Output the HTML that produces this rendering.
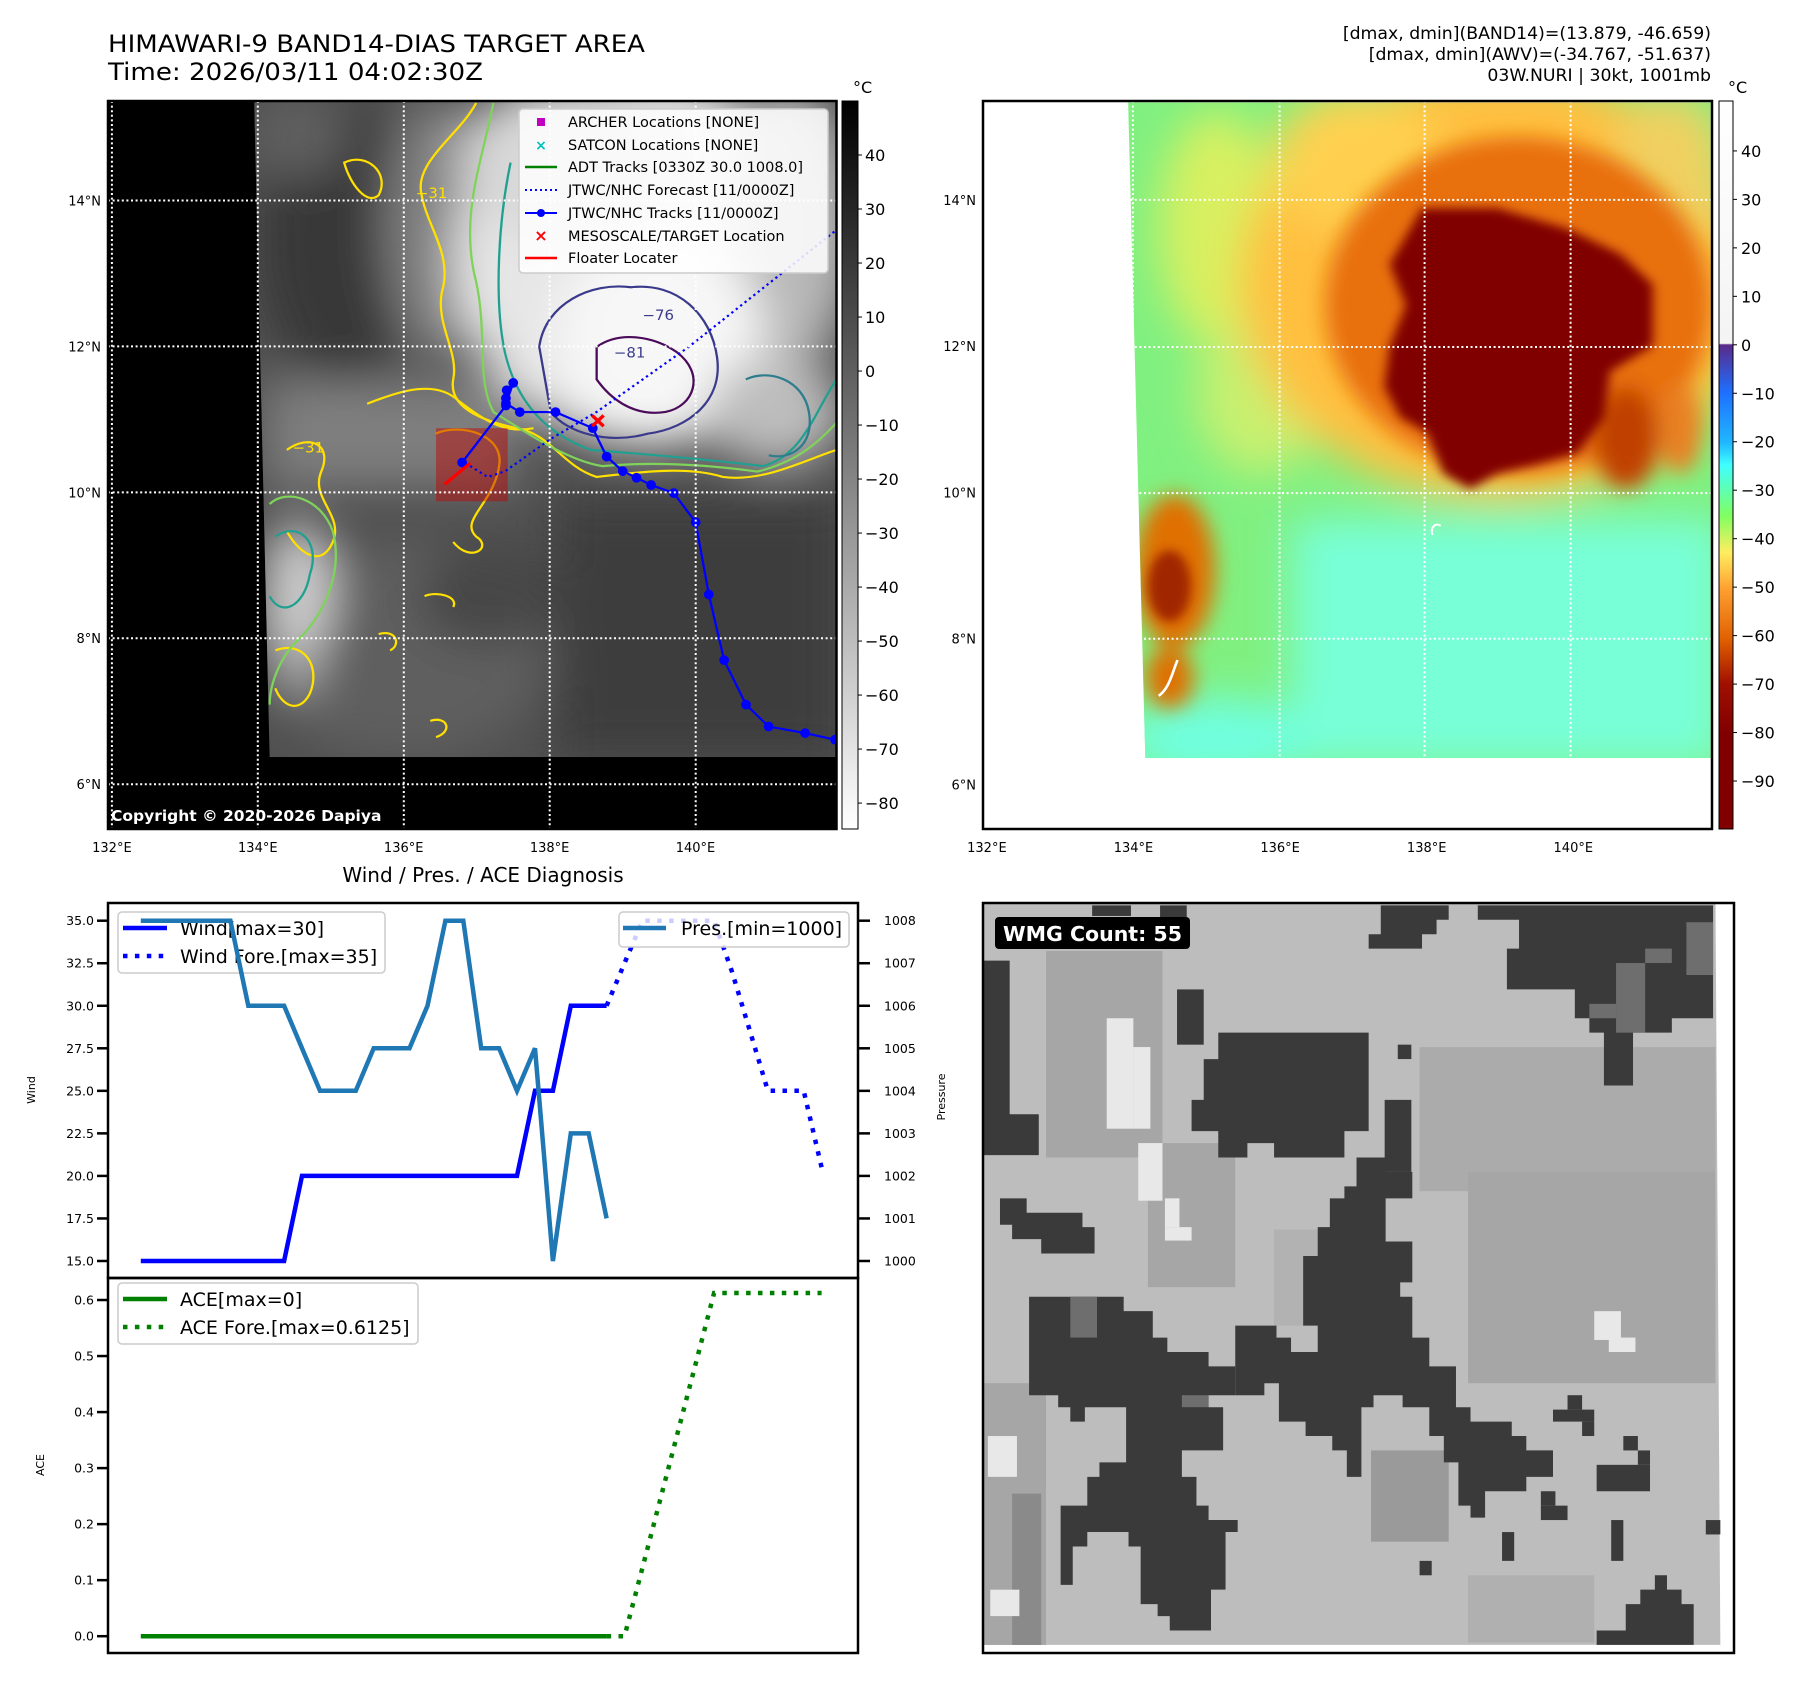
<!DOCTYPE html>
<html><head><meta charset="utf-8"><title>HIMAWARI-9 BAND14 Target Area</title>
<style>
html,body{margin:0;padding:0;background:#fff;}
svg{display:block;font-family:"DejaVu Sans","Liberation Sans",sans-serif;}
</style></head>
<body>
<svg id="fig" xmlns="http://www.w3.org/2000/svg" width="1801" height="1690" viewBox="0 0 1801 1690">
<defs>
  <filter id="b40" x="-50%" y="-50%" width="200%" height="200%"><feGaussianBlur stdDeviation="40"/></filter>
  <filter id="b20" x="-50%" y="-50%" width="200%" height="200%"><feGaussianBlur stdDeviation="20"/></filter>
  <filter id="b10" x="-50%" y="-50%" width="200%" height="200%"><feGaussianBlur stdDeviation="10"/></filter>
  <clipPath id="clip1"><polygon points="443,185 1458,185 1458,1397 470,1397"/></clipPath>
  <clipPath id="clipAx1"><rect x="187" y="185" width="1271" height="1345"/></clipPath>
  <clipPath id="clip2"><polygon points="313,83 1398,83 1398,1367 345,1367"/></clipPath>
  <linearGradient id="cb1" x1="0" y1="0" x2="0" y2="1"><stop offset="0" stop-color="#000"/><stop offset="1" stop-color="#fff"/></linearGradient>
  <linearGradient id="cb2" x1="0" y1="0" x2="0" y2="1">
    <stop offset="0" stop-color="#ffffff"/><stop offset="0.333" stop-color="#f4f4f4"/>
    <stop offset="0.335" stop-color="#5a2a8a"/><stop offset="0.40" stop-color="#1e6fff"/>
    <stop offset="0.47" stop-color="#20b8ff"/><stop offset="0.50" stop-color="#40ffff"/>
    <stop offset="0.57" stop-color="#80ff60"/><stop offset="0.62" stop-color="#ffee60"/>
    <stop offset="0.67" stop-color="#ffa030"/><stop offset="0.74" stop-color="#e06000"/>
    <stop offset="0.80" stop-color="#a01000"/><stop offset="0.87" stop-color="#800000"/>
    <stop offset="1" stop-color="#800000"/>
  </linearGradient>
</defs>

<!-- Titles -->
<text x="108" y="52" font-size="24" textLength="537" lengthAdjust="spacingAndGlyphs">HIMAWARI-9 BAND14-DIAS TARGET AREA</text>
<text x="108" y="80" font-size="24" textLength="375" lengthAdjust="spacingAndGlyphs">Time: 2026/03/11 04:02:30Z</text>
<g font-size="17.3" text-anchor="end">
  <text x="1711" y="39">[dmax, dmin](BAND14)=(13.879, -46.659)</text>
  <text x="1711" y="60">[dmax, dmin](AWV)=(-34.767, -51.637)</text>
  <text x="1711" y="81">03W.NURI | 30kt, 1001mb</text>
</g>

<!-- ============ MAP 1 ============ -->
<g>
<rect x="108" y="101" width="728.5" height="728" fill="#000"/>
<g transform="scale(0.5737,0.5420)">
  <g clip-path="url(#clip1)">
    <rect x="440" y="185" width="1020" height="1215" fill="#505050"/>
    <g filter="url(#b40)">
      <ellipse cx="600" cy="450" rx="150" ry="260" fill="#383838"/>
      <ellipse cx="520" cy="250" rx="90" ry="80" fill="#5e5e5e"/>
      <ellipse cx="760" cy="420" rx="90" ry="240" fill="#808080"/>
      <rect x="460" y="700" width="440" height="200" fill="#7e7e7e"/>
      <ellipse cx="1120" cy="480" rx="330" ry="340" fill="#e6e6e6"/>
      <ellipse cx="1000" cy="300" rx="200" ry="150" fill="#d8d8d8"/>
      <ellipse cx="1380" cy="420" rx="110" ry="260" fill="#b8b8b8"/>
      <ellipse cx="1150" cy="620" rx="180" ry="200" fill="#f7f7f7"/>
      <ellipse cx="1350" cy="760" rx="120" ry="100" fill="#bdbdbd"/>
      <rect x="970" y="920" width="500" height="480" fill="#3e3e3e"/>
      <ellipse cx="700" cy="1200" rx="260" ry="200" fill="#5e5e5e"/>
      <ellipse cx="520" cy="1090" rx="60" ry="130" fill="#cfcfcf"/>
      <ellipse cx="520" cy="1240" rx="40" ry="40" fill="#aaa"/>
      <ellipse cx="850" cy="1100" rx="120" ry="90" fill="#464646"/>
    </g>
    <!-- contours -->
    <g fill="none" stroke-width="4">
      <path stroke="#ffe000" d="M830,190 C800,250 720,300 735,360 C745,420 790,470 770,540 C760,600 800,650 790,700 C780,760 860,780 900,790 C960,800 980,860 1040,880 C1120,870 1200,860 1260,880 C1330,890 1400,850 1458,830"/>
      <path stroke="#ffe000" d="M640,745 C700,720 760,700 800,740 C850,780 880,800 930,790"/>
      <path stroke="#ffe000" d="M500,830 C540,800 580,820 560,870 C540,920 600,950 580,1000 C560,1050 520,1020 500,980"/>
      <path stroke="#ffe000" d="M760,800 C800,780 880,800 870,860 C860,930 800,960 830,990 C860,1010 820,1040 790,1000"/>
      <path stroke="#ffe000" d="M600,300 C640,280 680,320 660,360 C640,380 610,340 600,300 Z"/>
      <path stroke="#ffe000" d="M660,1170 C690,1160 700,1190 680,1200 M740,1100 C760,1090 800,1100 790,1120 M750,1330 C780,1320 790,1350 760,1360"/>
      <path stroke="#ffe000" d="M480,1200 C530,1180 560,1230 540,1280 C520,1320 490,1300 480,1270"/>
      <path stroke="#7fd35a" d="M860,190 C840,300 800,400 830,520 C850,620 830,700 860,760 C920,800 990,850 1050,860 C1150,850 1250,860 1320,870 C1400,850 1440,800 1458,780"/>
      <path stroke="#7fd35a" d="M470,930 C500,900 560,920 580,980 C600,1060 560,1140 520,1180 C490,1210 470,1260 470,1300"/>
      <path stroke="#20a090" d="M890,300 C870,400 860,550 880,650 C900,740 950,800 1030,830 C1150,840 1250,850 1330,860 C1400,840 1420,760 1458,700"/>
      <path stroke="#20a090" d="M480,990 C520,960 560,1000 540,1060 C530,1120 490,1140 470,1100"/>
      <path stroke="#2e7d8c" d="M1300,700 C1340,680 1400,700 1410,760 C1420,820 1380,850 1340,840"/>
      <path stroke="#3a3a8c" d="M940,640 C950,560 1030,520 1100,530 C1180,520 1240,580 1250,660 C1260,740 1200,790 1130,800 C1060,820 990,800 960,760 Z"/>
      <path stroke="#4b0a5a" d="M1040,640 C1080,610 1140,620 1180,650 C1230,690 1210,750 1160,760 C1100,770 1060,730 1040,700 Z"/>
    </g>
    <g font-size="26" fill="#ffe000"><text x="725" y="365">−31</text><text x="510" y="835">−31</text></g>
    <g font-size="26" fill="#3a3a8c"><text x="1120" y="590">−76</text><text x="1070" y="660">−81</text></g>
  </g>
  <g clip-path="url(#clipAx1)">
    <rect x="760" y="790" width="125" height="135" fill="#c00000" fill-opacity="0.45"/>
    <g id="tracks1"></g>
  </g>
</g>
<!-- gridlines -->
<g stroke="#fff" stroke-width="2" stroke-dasharray="2 2.6" fill="none">
  <line x1="111.9" y1="101" x2="111.9" y2="829"/><line x1="257.8" y1="101" x2="257.8" y2="829"/>
  <line x1="403.8" y1="101" x2="403.8" y2="829"/><line x1="549.7" y1="101" x2="549.7" y2="829"/>
  <line x1="695.7" y1="101" x2="695.7" y2="829"/>
  <line x1="108" y1="200.5" x2="836.5" y2="200.5"/><line x1="108" y1="346.4" x2="836.5" y2="346.4"/>
  <line x1="108" y1="492.4" x2="836.5" y2="492.4"/><line x1="108" y1="638.3" x2="836.5" y2="638.3"/>
  <line x1="108" y1="784.2" x2="836.5" y2="784.2"/>
</g>
<text x="111" y="821" font-size="15.5" font-weight="bold" fill="#fff">Copyright © 2020-2026 Dapiya</text>
<rect x="108" y="101" width="728.5" height="728" fill="none" stroke="#000" stroke-width="2.5"/>
<!-- legend -->
<g>
  <rect x="519" y="109" width="309" height="164" rx="4" fill="#fff" fill-opacity="0.85" stroke="#ccc" stroke-width="1.5"/>
  <rect x="537" y="118" width="8" height="8" fill="#c000c0"/>
  <text x="541" y="150" font-size="14" font-weight="bold" fill="#00c0c0" text-anchor="middle">×</text>
  <line x1="525" y1="167" x2="557" y2="167" stroke="#008000" stroke-width="2.5"/>
  <line x1="525" y1="190" x2="557" y2="190" stroke="#0000ff" stroke-width="2" stroke-dasharray="2 3"/>
  <line x1="525" y1="213" x2="557" y2="213" stroke="#0000ff" stroke-width="2"/><circle cx="541" cy="213" r="4" fill="#0000ff"/>
  <text x="541" y="241" font-size="16" font-weight="bold" fill="#ff0000" text-anchor="middle">×</text>
  <line x1="525" y1="258" x2="557" y2="258" stroke="#ff0000" stroke-width="2.5"/>
  <g font-size="14.5">
    <text x="568" y="127">ARCHER Locations [NONE]</text>
    <text x="568" y="150">SATCON Locations [NONE]</text>
    <text x="568" y="172">ADT Tracks [0330Z 30.0 1008.0]</text>
    <text x="568" y="195">JTWC/NHC Forecast [11/0000Z]</text>
    <text x="568" y="218">JTWC/NHC Tracks [11/0000Z]</text>
    <text x="568" y="241">MESOSCALE/TARGET Location</text>
    <text x="568" y="263">Floater Locater</text>
  </g>
</g>
<!-- colorbar 1 -->
<rect x="842" y="101" width="16" height="728" fill="url(#cb1)" stroke="#000" stroke-width="1"/>
<text x="853" y="93" font-size="16">°C</text>
<g id="cb1labels" font-size="16"></g>
<g id="map1labels" font-size="13"></g>
</g>

<!-- ============ MAP 2 ============ -->
<g>
<rect x="983" y="101" width="729" height="728" fill="#fff"/>
<g transform="translate(960,60) scale(0.5371,0.5107)">
  <g clip-path="url(#clip2)">
    <rect x="300" y="80" width="1100" height="1300" fill="#80f080"/>
    <g filter="url(#b40)">
      <rect x="620" y="900" width="800" height="480" fill="#78ffd8"/>
      <ellipse cx="480" cy="1330" rx="180" ry="80" fill="#70ffe0"/>
      <ellipse cx="480" cy="330" rx="110" ry="230" fill="#d8f060"/>
      <ellipse cx="560" cy="650" rx="120" ry="160" fill="#c8f070"/>
      <ellipse cx="1000" cy="440" rx="480" ry="420" fill="#ffc040"/>
      <ellipse cx="1320" cy="220" rx="110" ry="160" fill="#f0d060"/>
      <ellipse cx="740" cy="200" rx="160" ry="140" fill="#ffd050"/>
    </g>
    <g filter="url(#b20)">
      <ellipse cx="1040" cy="480" rx="360" ry="330" fill="#e87010"/>
      <ellipse cx="1240" cy="740" rx="60" ry="100" fill="#c04000"/>
      <ellipse cx="400" cy="1000" rx="75" ry="150" fill="#e07000"/>
      <ellipse cx="390" cy="1210" rx="45" ry="60" fill="#e07000"/>
      <ellipse cx="1340" cy="720" rx="40" ry="90" fill="#e88020"/>
    </g>
    <g filter="url(#b10)">
      <path fill="#800000" d="M860,290 L1000,290 L1130,330 L1230,380 L1290,440 L1290,560 L1210,610 L1200,700 L1150,770 L1080,790 L1000,810 L950,840 L900,810 L870,730 L820,700 L790,640 L800,560 L830,480 L800,400 Z"/>
      <ellipse cx="390" cy="1030" rx="40" ry="70" fill="#a02800"/>
    </g>
    <path d="M880,930 C875,915 885,905 895,912" stroke="#fff" stroke-width="4" fill="none"/>
    <path d="M405,1175 C395,1200 390,1230 370,1245" stroke="#fff" stroke-width="5" fill="none"/>
  </g>
</g>
<g stroke="#fff" stroke-width="2" stroke-dasharray="2 2.6" fill="none">
  <line x1="1132.9" y1="101" x2="1132.9" y2="829"/><line x1="1279.6" y1="101" x2="1279.6" y2="829"/>
  <line x1="1424.6" y1="101" x2="1424.6" y2="829"/><line x1="1570.6" y1="101" x2="1570.6" y2="829"/>
  <line x1="983" y1="199.9" x2="1712" y2="199.9"/><line x1="983" y1="347" x2="1712" y2="347"/>
  <line x1="983" y1="493.1" x2="1712" y2="493.1"/><line x1="983" y1="638.7" x2="1712" y2="638.7"/>
  <line x1="983" y1="784.2" x2="1712" y2="784.2"/>
</g>
<rect x="983" y="101" width="729" height="728" fill="none" stroke="#000" stroke-width="2.5"/>
<rect x="1719" y="101" width="14" height="728" fill="url(#cb2)" stroke="#000" stroke-width="1"/>
<text x="1728" y="93" font-size="16">°C</text>
<g id="cb2labels" font-size="16"></g>
<g id="map2labels" font-size="13"></g>
</g>

<!-- ============ WIND / PRES / ACE ============ -->
<text x="483" y="882" font-size="20" text-anchor="middle">Wind / Pres. / ACE Diagnosis</text>
<g id="chart"></g>

<!-- ============ WMG ============ -->
<g>
<rect x="983" y="903" width="751" height="750" fill="#fff"/>
<g transform="translate(983,903) scale(0.4851,0.4802)">
  <polygon points="0,0 1510,0 1520,1545 0,1545" fill="#bdbdbd"/>
  <g fill="#a6a6a6">
    <rect x="0" y="1000" width="130" height="545"/><rect x="60" y="1230" width="60" height="315" fill="#8a8a8a"/>
    <rect x="130" y="100" width="240" height="430"/><rect x="340" y="500" width="180" height="300"/>
    <rect x="900" y="300" width="610" height="300" fill="#ababab"/><rect x="1000" y="560" width="510" height="440"/>
    <rect x="800" y="1140" width="160" height="190" fill="#9a9a9a"/><rect x="1000" y="1400" width="260" height="140" fill="#b0b0b0"/>
    <rect x="600" y="680" width="150" height="200" fill="#b2b2b2"/>
  </g>
  <g fill="#e8e8e8">
    <rect x="255" y="240" width="55" height="230"/><rect x="310" y="300" width="35" height="170"/>
    <rect x="320" y="500" width="50" height="120"/><rect x="375" y="615" width="30" height="60"/><rect x="375" y="675" width="55" height="28"/>
    <rect x="1260" y="850" width="55" height="60"/><rect x="1290" y="905" width="55" height="30"/>
    <rect x="10" y="1110" width="60" height="85"/><rect x="15" y="1430" width="60" height="55"/>
  </g>
  <g fill="#3a3a3a">
    <path d="M0,120 H55 V440 H115 V525 H0 Z"/>
    <rect x="225" y="5" width="80" height="22"/><rect x="365" y="5" width="55" height="25"/>
    <path d="M820,5 H960 V35 H935 V65 H905 V95 H795 V65 H820 Z"/>
    <path d="M1020,5 H1505 V240 H1420 V270 H1340 V380 H1280 V270 H1250 V240 H1220 V180 H1080 V95 H1105 V35 H1020 Z"/>
    <rect x="400" y="180" width="55" height="115"/>
    <path d="M455,325 H485 V270 H795 V475 H745 V530 H600 V500 H545 V530 H485 V475 H430 V410 H455 Z"/>
    <rect x="828" y="410" width="55" height="150"/><rect x="855" y="295" width="28" height="30"/>
    <path d="M770,530 H830 V560 H885 V615 H830 V705 H885 V790 H860 V820 H885 V905 H920 V965 H975 V1050 H1005 V1080 H1090 V1110 H1120 V1140 H1175 V1195 H1120 V1225 H1035 V1280 H1005 V1255 H980 V1165 H950 V1110 H920 V1050 H865 V1025 H805 V1050 H780 V1195 H750 V1140 H720 V1110 H665 V1080 H610 V1000 H580 V1025 H520 V880 H605 V905 H635 V935 H690 V880 H660 V735 H690 V675 H715 V615 H745 V590 H770 Z"/>
    <path d="M35,615 H90 V645 H205 V675 H230 V730 H120 V700 H60 V670 H35 Z"/>
    <path d="M95,820 H290 V850 H350 V905 H380 V935 H465 V965 H520 V1025 H465 V1050 H495 V1140 H410 V1195 H440 V1255 H465 V1285 H525 V1310 H500 V1430 H470 V1515 H385 V1485 H360 V1460 H325 V1340 H300 V1310 H215 V1340 H185 V1420 H160 V1255 H215 V1195 H240 V1165 H295 V1050 H210 V1080 H180 V1050 H155 V1025 H95 Z"/>
    <rect x="1205" y="1025" width="30" height="30"/><rect x="1175" y="1055" width="85" height="25"/><rect x="1235" y="1080" width="25" height="30"/>
    <rect x="1320" y="1110" width="30" height="30"/><rect x="1350" y="1140" width="25" height="30"/>
    <rect x="1265" y="1170" width="110" height="55"/><rect x="1150" y="1225" width="30" height="30"/><rect x="1150" y="1255" width="55" height="30"/>
    <rect x="1295" y="1285" width="25" height="85"/><rect x="1070" y="1310" width="25" height="60"/>
    <rect x="1490" y="1285" width="30" height="30"/><rect x="900" y="1370" width="25" height="30"/>
    <path d="M1385,1400 H1410 V1430 H1440 V1460 H1465 V1545 H1265 V1515 H1325 V1460 H1355 V1430 H1385 Z"/>
  </g>
  <g fill="#6e6e6e">
    <rect x="1365" y="95" width="55" height="30"/><rect x="1305" y="125" width="60" height="145"/>
    <rect x="1250" y="210" width="55" height="30"/><rect x="1450" y="40" width="55" height="110"/>
    <rect x="180" y="820" width="55" height="85"/><rect x="410" y="1025" width="55" height="25"/>
  </g>
</g>
<rect x="983" y="903" width="751" height="750" fill="none" stroke="#000" stroke-width="2.5"/>
<rect x="995" y="917" width="195" height="32" rx="4" fill="#000"/>
<text x="1003" y="941" font-size="20.5" font-weight="bold" fill="#fff">WMG Count: 55</text>
</g>

<script>
// ---------------- Diagnosis chart data ----------------
const obsHours = [0,1,2,3,4,5,6,7,8,9,10,11,12,13,14,15,16,17,18,19,20,21,22,23,24,25,26];
const windObs = [15,15,15,15,15,15,15,15,15,20,20,20,20,20,20,20,20,20,20,20,20,20,25,25,30,30,30];
const presObs = [1008,1008,1008,1008,1008,1008,1006,1006,1006,1005,1004,1004,1004,1005,1005,1005,1006,1008,1008,1005,1005,1004,1005,1000,1003,1003,1001];
const aceObs = [0,0,0,0,0,0,0,0,0,0,0,0,0,0,0,0,0,0,0,0,0,0,0,0,0,0,0];
const foreHours = [26,27,28,29,30,31,32,33,34,35,36,37,38];
const windFore = [30,32.5,35,35,35,35,35,32,28.5,25,25,25,20.5];
const aceFore = [0,0,0.1225,0.245,0.3675,0.49,0.6125,0.6125,0.6125,0.6125,0.6125,0.6125,0.6125];
const windTicks = [15.0,17.5,20.0,22.5,25.0,27.5,30.0,32.5,35.0];
const presTicks = [1000,1001,1002,1003,1004,1005,1006,1007,1008];
const aceTicks = [0.0,0.1,0.2,0.3,0.4,0.5,0.6];

// ---------------- Map data ----------------
const trackLon = [136.80,137.40,137.40,137.41,137.50,137.40,137.59,138.08,138.59,138.78,139.00,139.19,139.39,139.70,140.00,140.18,140.39,140.69,141.00,141.50,141.91,142.10];
const trackLat = [10.41,11.19,11.29,11.40,11.50,11.22,11.10,11.10,10.88,10.49,10.29,10.20,10.10,9.99,9.59,8.60,7.70,7.09,6.79,6.70,6.61,6.58];
const foreLon = [136.91,137.15,137.39,138.01,138.64,139.90,141.87,142.10];
const foreLat = [10.36,10.21,10.29,10.73,11.10,11.99,13.55,13.73];
const targetLon = [138.66];
const targetLat = [10.98];
const floaterLon = [136.56,136.91];
const floaterLat = [10.11,10.40];
const cb1Ticks = [40,30,20,10,0,-10,-20,-30,-40,-50,-60,-70,-80];
const cb2Ticks = [40,30,20,10,0,-10,-20,-30,-40,-50,-60,-70,-80,-90];
const lonTicks = [132,134,136,138,140];
const latTicks = [14,12,10,8,6];

const NS = 'http://www.w3.org/2000/svg';
function mk(tag, attrs, parent){ const e=document.createElementNS(NS,tag); for(const k in attrs) e.setAttribute(k,attrs[k]); parent.appendChild(e); return e; }
function fmtNeg(v){ return (v<0?'\u2212':'')+Math.abs(v); }

// ---- chart axes functions ----
const AX = {l:108, r:858, tW:903, bW:1278, tA:1278, bA:1653};
const xMin=-1.83, xMax=40.03;
function xS(h){ return AX.l + (h-xMin)/(xMax-xMin)*(AX.r-AX.l); }
const wTop=36.04, wBot=14.0;
function yW(v){ return AX.tW + (wTop-v)/(wTop-wBot)*(AX.bW-AX.tW); }
function yP(p){ return yW(15 + (p-1000)*2.5); }
const aTop=0.6393, aBot=-0.03;
function yA(v){ return AX.tA + (aTop-v)/(aTop-aBot)*(AX.bA-AX.tA); }
function pts(xs, ys, fy){ return xs.map((h,i)=>xS(h).toFixed(1)+','+fy(ys[i]).toFixed(1)).join(' '); }

const chart = document.getElementById('chart');
const fw = mk('rect',{x:AX.l,y:AX.tW,width:AX.r-AX.l,height:AX.bW-AX.tW,fill:'#fff'},chart);


const fa = mk('rect',{x:AX.l,y:AX.tA,width:AX.r-AX.l,height:AX.bA-AX.tA,fill:'#fff'},chart);



windTicks.forEach(v=>{
  const y=yW(v);
  mk('line',{x1:AX.l-11,y1:y,x2:AX.l,y2:y,stroke:'#000','stroke-width':2.5},chart);
  const t=mk('text',{x:AX.l-14,y:y+4.5,'font-size':12.5,'text-anchor':'end'},chart);
  t.textContent=v.toFixed(1);
  
  
});
presTicks.forEach(p=>{
  const y=yP(p);
  mk('line',{x1:AX.r,y1:y,x2:AX.r+12,y2:y,stroke:'#000','stroke-width':2.5},chart);
  const t=mk('text',{x:AX.r+26,y:y+4.5,'font-size':12.5},chart);
  t.textContent=p;
  
  
});
aceTicks.forEach(v=>{
  const y=yA(v);
  mk('line',{x1:AX.l-11,y1:y,x2:AX.l,y2:y,stroke:'#000','stroke-width':2.5},chart);
  const t=mk('text',{x:AX.l-14,y:y+4.5,'font-size':12.5,'text-anchor':'end'},chart);
  t.textContent=v.toFixed(1);
  
  
});
let yt=mk('text',{x:0,y:0,'font-size':11,'text-anchor':'middle',transform:'translate(35,1090) rotate(-90)'},chart);
yt.textContent='Wind';


yt=mk('text',{x:0,y:0,'font-size':11,'text-anchor':'middle',transform:'translate(44,1465) rotate(-90)'},chart);
yt.textContent='ACE';


yt=mk('text',{x:0,y:0,'font-size':11,'text-anchor':'middle',transform:'translate(945,1097) rotate(-90)'},chart);
yt.textContent='Pressure';



let ln=mk('polyline',{points:pts(obsHours,windObs,yW),fill:'none',stroke:'#0000ff','stroke-width':4.5,'stroke-linejoin':'miter'},chart);


ln=mk('polyline',{points:pts(foreHours,windFore,yW),fill:'none',stroke:'#0000ff','stroke-width':4.5,'stroke-dasharray':'4.5 7.4'},chart);


let lg=mk('g',{},chart);


mk('rect',{x:118,y:912,width:267,height:61,rx:4,fill:'#fff','fill-opacity':0.8,stroke:'#ccc','stroke-width':1.5},lg);
mk('line',{x1:123,y1:928,x2:167,y2:928,stroke:'#0000ff','stroke-width':4.5},lg);
mk('line',{x1:123,y1:956,x2:167,y2:956,stroke:'#0000ff','stroke-width':4.5,'stroke-dasharray':'4.5 7.4'},lg);
let tx=mk('text',{x:180,y:935,'font-size':19},lg); tx.textContent='Wind[max=30]';
tx=mk('text',{x:180,y:963,'font-size':19},lg); tx.textContent='Wind Fore.[max=35]';
ln=mk('polyline',{points:pts(obsHours,presObs,yP),fill:'none',stroke:'#1f77b4','stroke-width':4.5},chart);


lg=mk('g',{},chart);


mk('rect',{x:619,y:912,width:230,height:35,rx:4,fill:'#fff','fill-opacity':0.8,stroke:'#ccc','stroke-width':1.5},lg);
mk('line',{x1:623,y1:928,x2:666,y2:928,stroke:'#1f77b4','stroke-width':4.5},lg);
tx=mk('text',{x:681,y:935,'font-size':19},lg); tx.textContent='Pres.[min=1000]';
ln=mk('polyline',{points:pts(obsHours,aceObs,yA),fill:'none',stroke:'#008000','stroke-width':4.5},chart);


ln=mk('polyline',{points:pts(foreHours,aceFore,yA),fill:'none',stroke:'#008000','stroke-width':4.5,'stroke-dasharray':'4.5 7.4'},chart);


lg=mk('g',{},chart);


mk('rect',{x:118,y:1283,width:300,height:61,rx:4,fill:'#fff','fill-opacity':0.8,stroke:'#ccc','stroke-width':1.5},lg);
mk('line',{x1:123,y1:1299,x2:167,y2:1299,stroke:'#008000','stroke-width':4.5},lg);
mk('line',{x1:123,y1:1327,x2:167,y2:1327,stroke:'#008000','stroke-width':4.5,'stroke-dasharray':'4.5 7.4'},lg);
tx=mk('text',{x:180,y:1306,'font-size':19},lg); tx.textContent='ACE[max=0]';
tx=mk('text',{x:180,y:1334,'font-size':19},lg); tx.textContent='ACE Fore.[max=0.6125]';
mk('rect',{x:AX.l,y:AX.tW,width:AX.r-AX.l,height:AX.bW-AX.tW,fill:'none',stroke:'#000','stroke-width':2.5},chart);
mk('rect',{x:AX.l,y:AX.tA,width:AX.r-AX.l,height:AX.bA-AX.tA,fill:'none',stroke:'#000','stroke-width':2.5},chart);

// ---------------- Map 1 tracks ----------------
function mX(lon){ return 195 + (lon-132)*127.2; }
function mY(lat){ return 370 + (14-lat)*134.6; }
const tg = document.getElementById('tracks1');
function lp(lons,lats){ return lons.map((l,i)=>mX(l).toFixed(1)+','+mY(lats[i]).toFixed(1)).join(' '); }
ln=mk('polyline',{points:lp(foreLon,foreLat),fill:'none',stroke:'#0000ff','stroke-width':4,'stroke-dasharray':'4 6'},tg);


ln=mk('polyline',{points:lp(trackLon,trackLat),fill:'none',stroke:'#0000ff','stroke-width':4},tg);


trackLon.forEach((l,i)=>{
  const c=mk('ellipse',{cx:mX(l),cy:mY(trackLat[i]),rx:8.5,ry:9,fill:'#0000ff'},tg);
  
  
});
ln=mk('polyline',{points:lp(floaterLon,floaterLat),fill:'none',stroke:'#ff0000','stroke-width':6},tg);


targetLon.forEach((l,i)=>{
  const x=mX(l), y=mY(targetLat[i]);
  const g=mk('g',{stroke:'#ff0000','stroke-width':6},tg);
  
  
  mk('line',{x1:x-10,y1:y-10,x2:x+10,y2:y+10},g);
  mk('line',{x1:x-10,y1:y+10,x2:x+10,y2:y-10},g);
});

// ---------------- colorbar labels ----------------
const cb1 = document.getElementById('cb1labels');
cb1Ticks.forEach(v=>{
  const y = 101 + (50 - v)/(50+84.8)*728;
  mk('line',{x1:858,y1:y,x2:862,y2:y,stroke:'#000','stroke-width':1},cb1);
  const t=mk('text',{x:865,y:y+6},cb1); t.textContent=fmtNeg(v);
  
  
});
const cb2 = document.getElementById('cb2labels');
cb2Ticks.forEach(v=>{
  const y = 101 + (50.3 - v)/(150.2)*728;
  mk('line',{x1:1733,y1:y,x2:1737,y2:y,stroke:'#000','stroke-width':1},cb2);
  const t=mk('text',{x:1741,y:y+6},cb2); t.textContent=fmtNeg(v);
  
  
});
// ---------------- map tick labels ----------------
function mapLabels(gid, lonPos, latPos, latRight){
  const g=document.getElementById(gid);
  lonTicks.forEach(lon=>{
    const t=mk('text',{x:lonPos(lon),y:852,'text-anchor':'middle'},g); t.textContent=lon+'°E';
    
    
  });
  latTicks.forEach(lat=>{
    const t=mk('text',{x:latRight,y:latPos(lat)+5,'text-anchor':'end'},g); t.textContent=lat+'°N';
    
    
  });
}
mapLabels('map1labels', lon=>111.9+(lon-132)*72.95, lat=>200.5+(14-lat)*72.95, 101);
mapLabels('map2labels', lon=>986.9+(lon-132)*73.3, lat=>199.9+(14-lat)*73.1, 976);
</script>
</body></html>
